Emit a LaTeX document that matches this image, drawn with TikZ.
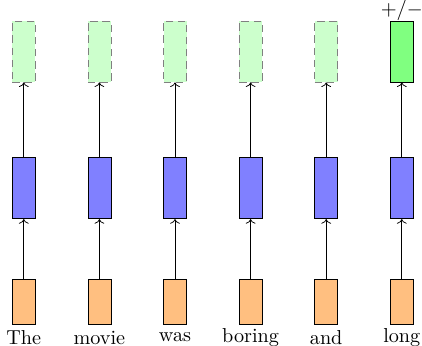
\documentclass[tikz,border=0pt]{standalone}
\usetikzlibrary{arrows.meta}
\begin{document}
\begin{tikzpicture}[x=0.535pt,y=-0.535pt,
  font=\fontsize{10.8}{13}\selectfont,
  cell/.style={draw,inner sep=0pt,minimum width=23*0.535pt},
  inbox/.style={cell,fill=orange!50,minimum height=45*0.535pt},
  hidbox/.style={cell,fill=blue!50,minimum height=61.4*0.535pt},
  outbox/.style={cell,draw=gray,dash pattern=on 4pt off 2.5pt,fill=green!20,minimum height=61*0.535pt},
  finalbox/.style={cell,fill=green!50,minimum height=61*0.535pt},
  word/.style={inner sep=0pt},
  flow/.style={->}]
  \useasboundingbox (0,0) rectangle (422,346);
  \foreach \w [count=\i] in {The,movie,was,boring,and,long} {
    \pgfmathsetmacro{\cx}{23.8+75.6*(\i-1)}
    \node[inbox]  (x\i) at (\cx,301.5) {};
    \node[hidbox] (h\i) at (\cx,188) {};
    \ifnum\i=6
      \node[finalbox] (y\i) at (\cx,51.5) {};
    \else
      \node[outbox] (y\i) at (\cx,51.5) {};
    \fi
    \node[word] (w\i) at (\cx,337.5) {\w};
    \draw[flow] (x\i) -- (h\i);
    \draw[flow] (h\i) -- (y\i);
  }
  \node[above,inner sep=0pt] (pm) at (y6.north) {$+/-$};
\end{tikzpicture}
\end{document}
